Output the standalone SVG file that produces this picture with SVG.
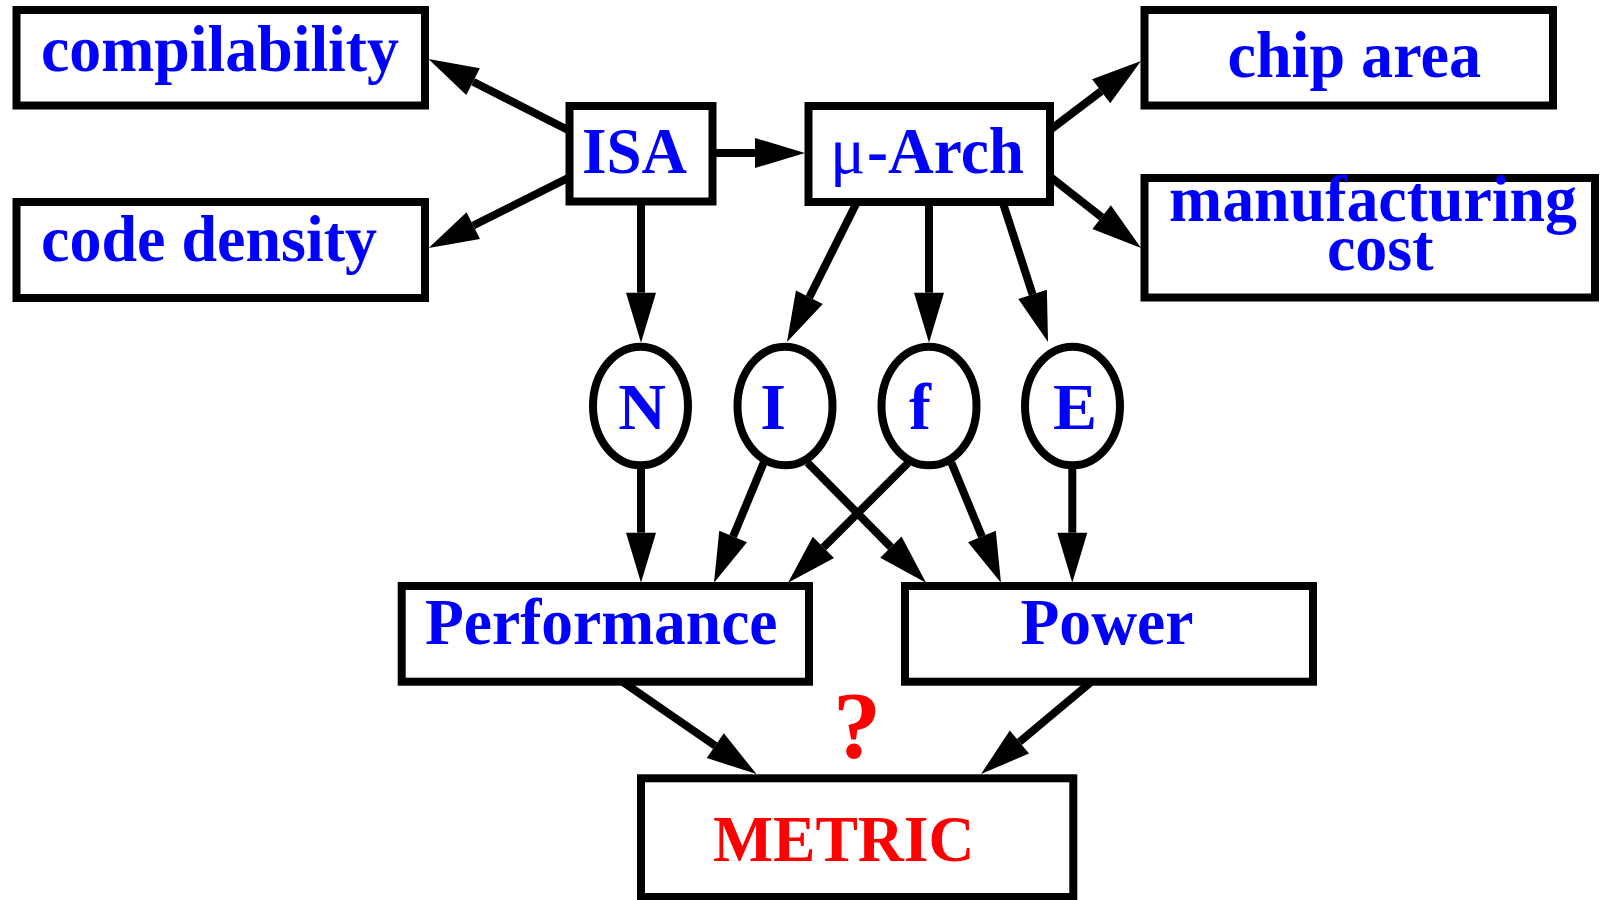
<svg xmlns="http://www.w3.org/2000/svg" width="1600" height="900" viewBox="0 0 1600 900">
<style>
.box{fill:#fff;stroke:#000;stroke-width:8}
.t{font-family:"Liberation Serif","Times New Roman",serif;font-weight:bold;font-size:66px;fill:#0000ff}
.r{fill:#ff0000}
.c{stroke:#000;stroke-width:8;fill:none;marker-end:url(#ah)}
</style>
<defs>
<marker id="ah" markerUnits="userSpaceOnUse" markerWidth="52" markerHeight="32" refX="0" refY="15" orient="auto" overflow="visible">
<path d="M0,0 L50,15 L0,30 Z" fill="#000"/>
</marker>
</defs>
<rect width="1600" height="900" fill="#fff"/>
<g id="connectors">
<line class="c" x1="568" y1="130" x2="473.05" y2="81.7"/>
<line class="c" x1="568" y1="178" x2="473.3" y2="225.55"/>
<line class="c" x1="713" y1="153" x2="755" y2="153"/>
<line class="c" x1="641" y1="202" x2="641" y2="292.7"/>
<line class="c" x1="1050" y1="130" x2="1101.15" y2="91.2"/>
<line class="c" x1="1050" y1="176.7" x2="1101.65" y2="217.15"/>
<line class="c" x1="857" y1="202" x2="809.35" y2="297.3"/>
<line class="c" x1="929" y1="202" x2="929" y2="292.7"/>
<line class="c" x1="1002.6" y1="202" x2="1032.6" y2="294.45"/>
<line class="c" x1="641" y1="466" x2="641" y2="532.7"/>
<line class="c" x1="763.7" y1="462.7" x2="733.13" y2="536.5"/>
<line class="c" x1="807.6" y1="462.7" x2="890.9" y2="547.1"/>
<line class="c" x1="908" y1="463" x2="823.4" y2="547.4"/>
<line class="c" x1="951.4" y1="462.7" x2="981.9" y2="536.5"/>
<line class="c" x1="1072.3" y1="466" x2="1072.3" y2="532.7"/>
<line class="c" x1="616" y1="677.3" x2="715.3" y2="745.7"/>
<line class="c" x1="1096.8" y1="677.3" x2="1019.4" y2="742"/>
</g>
<g id="compilability">
<rect class="box" x="16.5" y="10" width="408.5" height="95.5"/>
<text class="t" x="41" y="70.5" textLength="358" lengthAdjust="spacingAndGlyphs">compilability</text>
</g>
<g id="code-density">
<rect class="box" x="16.5" y="202" width="408.5" height="96"/>
<text class="t" x="41" y="260.7" textLength="336" lengthAdjust="spacingAndGlyphs">code density</text>
</g>
<g id="isa">
<rect class="box" x="569.5" y="106" width="143" height="95.5"/>
<text class="t" x="582" y="173" textLength="105" lengthAdjust="spacingAndGlyphs">ISA</text>
</g>
<g id="march">
<rect class="box" x="808.5" y="106" width="241.5" height="96"/>
<text class="t" y="172.7"><tspan x="830" font-weight="normal">μ</tspan><tspan x="867" textLength="157" lengthAdjust="spacingAndGlyphs">-Arch</tspan></text>
</g>
<g id="chip-area">
<rect class="box" x="1144.5" y="10" width="408.5" height="95.5"/>
<text class="t" x="1227.5" y="77" textLength="253.5" lengthAdjust="spacingAndGlyphs">chip area</text>
</g>
<g id="manufacturing-cost">
<rect class="box" x="1144.5" y="178" width="450.5" height="119.5"/>
<text class="t" x="1169" y="221" textLength="408" lengthAdjust="spacingAndGlyphs">manufacturing</text>
<text class="t" x="1327" y="269.5" textLength="106.5" lengthAdjust="spacingAndGlyphs">cost</text>
</g>
<g id="N">
<ellipse class="box" cx="640.5" cy="406" rx="47.5" ry="59.3"/>
<text class="t" x="642" y="429.3" text-anchor="middle">N</text>
</g>
<g id="I">
<ellipse class="box" cx="785" cy="406" rx="47.5" ry="59.3"/>
<text class="t" x="773" y="429.3" text-anchor="middle">I</text>
</g>
<g id="f">
<ellipse class="box" cx="929" cy="406" rx="47.5" ry="59.3"/>
<text class="t" x="920" y="429.3" text-anchor="middle">f</text>
</g>
<g id="E">
<ellipse class="box" cx="1072.5" cy="406" rx="47.5" ry="59.3"/>
<text class="t" x="1075" y="429.3" text-anchor="middle">E</text>
</g>
<g id="performance">
<rect class="box" x="401.7" y="586" width="407.3" height="95.7"/>
<text class="t" x="425" y="644" textLength="352.5" lengthAdjust="spacingAndGlyphs">Performance</text>
</g>
<g id="power">
<rect class="box" x="905" y="586" width="408" height="95.7"/>
<text class="t" x="1020.5" y="644.3" textLength="173" lengthAdjust="spacingAndGlyphs">Power</text>
</g>
<g id="question">
<text class="t r" x="857" y="758.3" font-size="96" text-anchor="middle" style="font-size:96px">?</text>
</g>
<g id="metric">
<rect class="box" x="641" y="778.3" width="432.3" height="118.7"/>
<text class="t r" x="713" y="860.7" textLength="261.5" lengthAdjust="spacingAndGlyphs">METRIC</text>
</g>
</svg>
